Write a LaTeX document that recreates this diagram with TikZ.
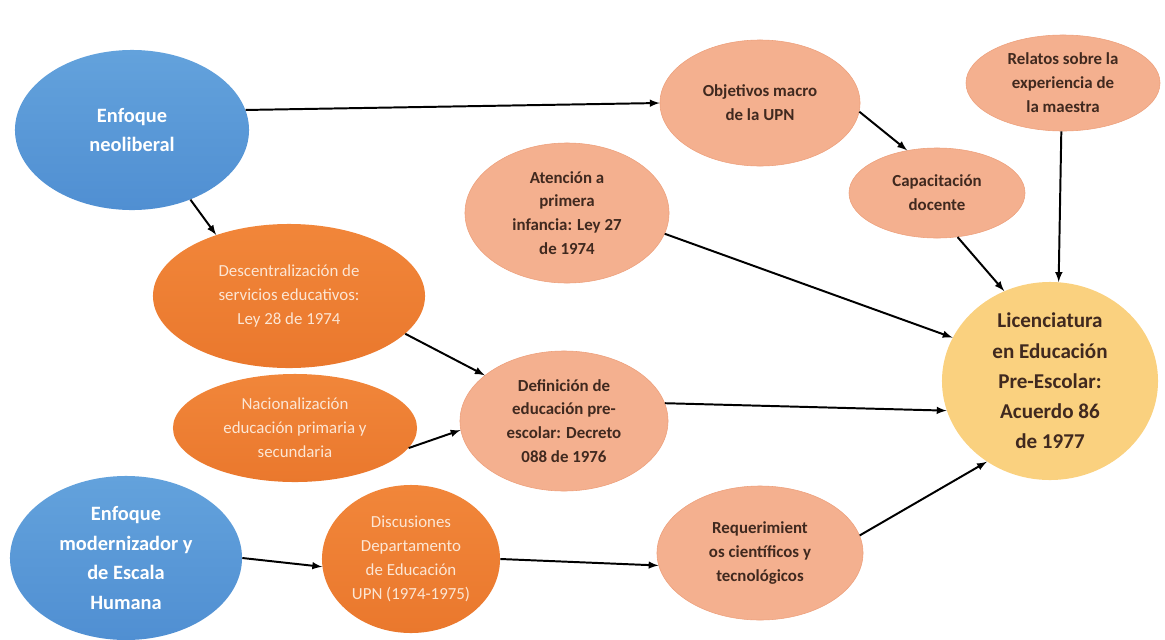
\documentclass[tikz,border=0pt]{standalone}
\usepackage{fontspec}
\setmainfont{Carlito}
\usetikzlibrary{shapes.geometric}

\definecolor{bluetop}{HTML}{63A2DC}
\definecolor{bluebot}{HTML}{508FD2}
\definecolor{orangetop}{HTML}{F1863A}
\definecolor{orangebot}{HTML}{EA782D}
\definecolor{salmon}{HTML}{F4B08F}
\definecolor{salmonline}{HTML}{EDA07C}
\definecolor{goldfill}{HTML}{FAD17F}
\definecolor{darktext}{HTML}{40291F}
\definecolor{creamtext}{HTML}{FCE6D4}

\tikzset{
  blob/.style={ellipse,inner sep=-6pt,align=center},
  bluebox/.style={blob,top color=bluetop,bottom color=bluebot,text=white,
    font=\fontsize{14.5}{21}\selectfont\bfseries},
  orangebox/.style={blob,top color=orangetop,bottom color=orangebot,text=creamtext,
    font=\fontsize{12}{17}\selectfont},
  salmonbox/.style={blob,fill=salmon,draw=salmonline,line width=0.4pt,text=darktext,
    font=\fontsize{12}{17}\selectfont\bfseries},
  goalbox/.style={blob,fill=goldfill,text=darktext,
    font=\fontsize{15}{21.5}\selectfont\bfseries},
  link/.style={-latex,line width=1.4pt}
}

\begin{document}
\begin{tikzpicture}[x=0.025cm,y=-0.025cm]

\useasboundingbox (0,0) rectangle (1165,639);

% left column
\node[bluebox,minimum width=5.85cm,minimum height=4cm] (neo) at (132,130) {Enfoque\\neoliberal};
\node[bluebox,minimum width=5.8cm,minimum height=4.1cm] (mod) at (126,558) {Enfoque\\modernizador y\\de Escala\\Humana};

\node[orangebox,minimum width=6.8cm,minimum height=3.6cm] (des) at (289,296) {Descentralizaci\'on de\\servicios educativos:\\Ley 28 de 1974};
\node[orangebox,minimum width=6.1cm,minimum height=2.7cm] (nac) at (295,428) {Nacionalizaci\'on\\educaci\'on primaria y\\secundaria};
\node[orangebox,minimum width=4.45cm,minimum height=3.7cm] (dis) at (411,559) {Discusiones\\Departamento\\de Educaci\'on\\UPN (1974-1975)};

% middle
\node[salmonbox,minimum width=5.2cm,minimum height=3.5cm] (def) at (564,421) {Definici\'on de\\educaci\'on pre-\\escolar: Decreto\\088 de 1976};
\node[salmonbox,minimum width=5.1cm,minimum height=3.5cm] (ate) at (567,213) {Atenci\'on a\\primera\\infancia: Ley 27\\de 1974};
\node[salmonbox,minimum width=5.15cm,minimum height=3.35cm] (req) at (760,553) {Requerimient\\os cient\'ificos y\\tecnol\'ogicos};
\node[salmonbox,minimum width=5cm,minimum height=3.15cm] (obj) at (760,103) {Objetivos macro\\de la UPN};
\node[salmonbox,minimum width=4.4cm,minimum height=2.25cm] (cap) at (937,193) {Capacitaci\'on\\docente};
\node[salmonbox,minimum width=4.85cm,minimum height=2.4cm] (rel) at (1063,83) {Relatos sobre la\\experiencia de\\la maestra};

% goal
\node[goalbox,minimum width=5.4cm,minimum height=4.95cm] (lic) at (1050,381) {Licenciatura\\en Educaci\'on\\Pre-Escolar:\\Acuerdo 86\\de 1977};

\draw[link] (neo.10) -- (obj.west);
\draw[link] (neo.-50) -- (des.140);
\draw[link] (des.-18) -- (def.150);
\draw[link] (nac.-10) -- (def.185);
\draw[link] (mod.0) -- (dis.185);
\draw[link] (dis.east) -- (req.187);
\draw[link] (obj.-5) -- (cap.125);
\draw[link] (cap.-65) -- (lic.117);
\draw[link] (rel.-92) -- (lic.85);
\draw[link] (ate.-12) -- (lic.156);
\draw[link] (def.10) -- (lic.196);
\draw[link] (req.10) -- (lic.232);

\end{tikzpicture}
\end{document}
